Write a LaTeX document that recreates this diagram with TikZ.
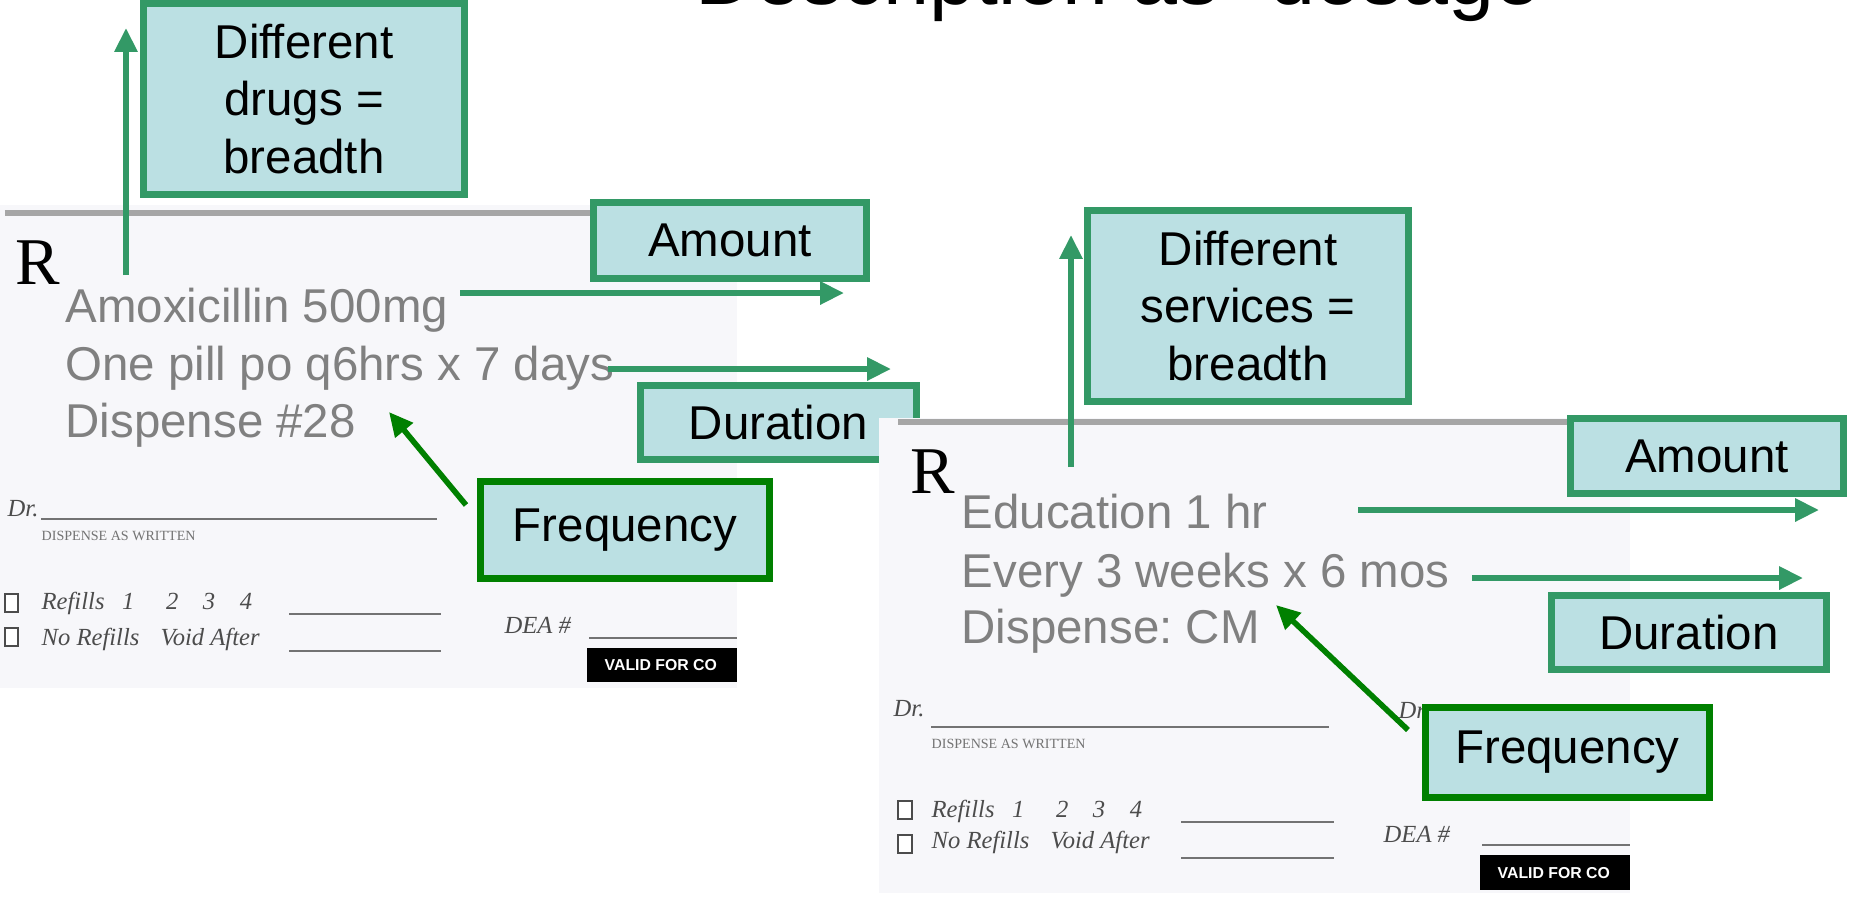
\documentclass[tikz,border=0pt]{standalone}
\usepackage{fontspec}
\setmainfont{Liberation Sans}
\newfontfamily\rxfont{Liberation Serif}
\usepackage{xcolor}
\usetikzlibrary{positioning, arrows.meta}
\frenchspacing

\definecolor{boxfill}{HTML}{BBE0E3}
\definecolor{boxline}{HTML}{339966}
\definecolor{freqline}{HTML}{008000}
\definecolor{greytxt}{HTML}{808080}
\definecolor{padbg}{HTML}{F7F7FA}
\definecolor{ruleline}{HTML}{A6A6A6}

\begin{document}
\begin{tikzpicture}[
    x=0.1mm, y=-0.1mm,
    box/.style={rectangle, draw=boxline, line width=2pt, fill=boxfill, inner sep=0pt, align=center, font=\fontsize{13.5}{16.4}\selectfont},
    freqbox/.style={box, draw=freqline},
    arrow/.style={-{Triangle[width=6.3pt,length=6.8pt]}, line width=1.6pt, draw=boxline},
    freqarrow/.style={arrow, draw=freqline},
    rxline/.style={anchor=base west, inner sep=0pt, text=greytxt, font=\fontsize{13.5}{16.4}\selectfont},
    rxsym/.style={anchor=base west, inner sep=0pt, font=\rxfont\fontsize{19}{20}\selectfont},
    formtxt/.style={anchor=base west, inner sep=0pt, text=black!70, font=\rxfont\itshape\fontsize{7}{8}\selectfont},
    tinytxt/.style={anchor=base west, inner sep=0pt, text=black!55, font=\rxfont\fontsize{4}{5}\selectfont},
    validtxt/.style={anchor=base west, inner sep=0pt, text=white, font=\bfseries\fontsize{4.5}{5}\selectfont},
    formline/.style={draw=black!55, line width=0.8pt},
    toprule/.style={draw=ruleline, line width=1.7pt},
    chk/.style={draw=black!70, line width=0.6pt, fill=white}
]
\useasboundingbox (0,0) rectangle (1850,896);
\clip (0,0) rectangle (1850,896);

% Title (cut off at the top)
\node[anchor=base west, inner sep=0pt, font=\fontsize{23.5}{28}\selectfont] (title) at (695,4) {Description as “dosage”};

% Left prescription pad
\fill[padbg] (0,205) rectangle (737,688);
\draw[toprule] (5,213) -- (700,213);
\node[rxsym] (rxL) at (15,284) {R};
\node[rxline] (amox) at (65,322) {Amoxicillin 500mg};
\node[rxline] (pill) at (65,380) {One pill po q6hrs x 7 days};
\node[rxline] (dispL) at (65,437) {Dispense \#28};
\node[formtxt] (drL) at (7,516) {Dr.};
\draw[formline] (41,519) -- (437,519);
\node[tinytxt] (dawL) at (41,540) {DISPENSE AS WRITTEN};
\draw[chk] (5,594) rectangle (18,612);
\draw[chk] (5,628) rectangle (18,646);
\node[formtxt] (refL) at (41,609) {Refills\hspace{5pt}1\hspace{9pt}2\hspace{7pt}3\hspace{7pt}4};
\node[formtxt] (norefL) at (41,645) {No Refills\hspace{6pt}Void After};
\draw[formline] (289,614) -- (441,614);
\draw[formline] (289,651) -- (441,651);
\node[formtxt] (deaL) at (504,633) {DEA \#};
\draw[formline] (589,638) -- (737,638);
\fill[black] (587,648) rectangle (737,682);
\node[validtxt] (validL) at (604,670) {VALID FOR CO};

% Left callouts
\node[box, minimum width=32.1mm, minimum height=19.1mm] (drugs) at (304,99) {Different\\drugs =\\breadth};
\node[box, minimum width=27.3mm, minimum height=7.6mm] (amountL) at (730,240.5) {Amount};
\node[box, minimum width=27.6mm, minimum height=7.4mm] (durationL) at (778.5,422.5) {Duration};
\node[freqbox, minimum width=28.9mm, minimum height=9.7mm] (freqL) at (625,530) {Frequency};

\coordinate (drugsTail) at (126,275);
\coordinate (drugsTip) at (126,28);
\coordinate (amountLTail) at (460,293);
\coordinate (amountLTip) at (844,293);
\coordinate (durationLTail) at (608,369);
\coordinate (durationLTip) at (891,369);
\coordinate (freqLTail) at (466,505);
\coordinate (freqLTip) at (389,412);

\draw[arrow] (drugsTail) -- (drugsTip);
\draw[arrow] (amountLTail) -- (amountLTip);
\draw[arrow] (durationLTail) -- (durationLTip);
\draw[freqarrow] (freqLTail) -- (freqLTip);

% Right prescription pad
\fill[padbg] (879,418) rectangle (1630,893);
\draw[toprule] (898,422) -- (1600,422);
\node[rxsym] (rxR) at (910,493) {R};
\node[rxline] (edu) at (961,528) {Education 1 hr};
\node[rxline] (every) at (961,587) {Every 3 weeks x 6 mos};
\node[rxline] (dispR) at (961,643) {Dispense: CM};
\node[formtxt] (drR) at (893,716) {Dr.};
\node[formtxt] (drR2) at (1398,718) {Dr.};
\draw[formline] (931,727) -- (1329,727);
\node[tinytxt] (dawR) at (931,748) {DISPENSE AS WRITTEN};
\draw[chk] (898,801) rectangle (912,819);
\draw[chk] (898,835) rectangle (912,853);
\node[formtxt] (refR) at (931,817) {Refills\hspace{5pt}1\hspace{9pt}2\hspace{7pt}3\hspace{7pt}4};
\node[formtxt] (norefR) at (931,848) {No Refills\hspace{6pt}Void After};
\draw[formline] (1181,822) -- (1334,822);
\draw[formline] (1181,858) -- (1334,858);
\node[formtxt] (deaR) at (1383,842) {DEA \#};
\draw[formline] (1482,845) -- (1630,845);
\fill[black] (1480,855) rectangle (1630,890);
\node[validtxt] (validR) at (1497,878) {VALID FOR CO};

% Right callouts
\node[box, minimum width=32.1mm, minimum height=19.1mm] (services) at (1248,306) {Different\\services =\\breadth};
\node[box, minimum width=27.3mm, minimum height=7.5mm] (amountR) at (1707,456) {Amount};
\node[box, minimum width=27.5mm, minimum height=7.4mm] (durationR) at (1689,632.5) {Duration};
\node[freqbox, minimum width=28.4mm, minimum height=9.0mm] (freqR) at (1567.5,752.5) {Frequency};

\coordinate (servicesTail) at (1071,467);
\coordinate (servicesTip) at (1071,235);
\coordinate (amountRTail) at (1358,510);
\coordinate (amountRTip) at (1819,510);
\coordinate (durationRTail) at (1472,578);
\coordinate (durationRTip) at (1803,578);
\coordinate (freqRTail) at (1408,730);
\coordinate (freqRTip) at (1276,605);

\draw[arrow] (servicesTail) -- (servicesTip);
\draw[arrow] (amountRTail) -- (amountRTip);
\draw[arrow] (durationRTail) -- (durationRTip);
\draw[freqarrow] (freqRTail) -- (freqRTip);

\end{tikzpicture}
\end{document}
